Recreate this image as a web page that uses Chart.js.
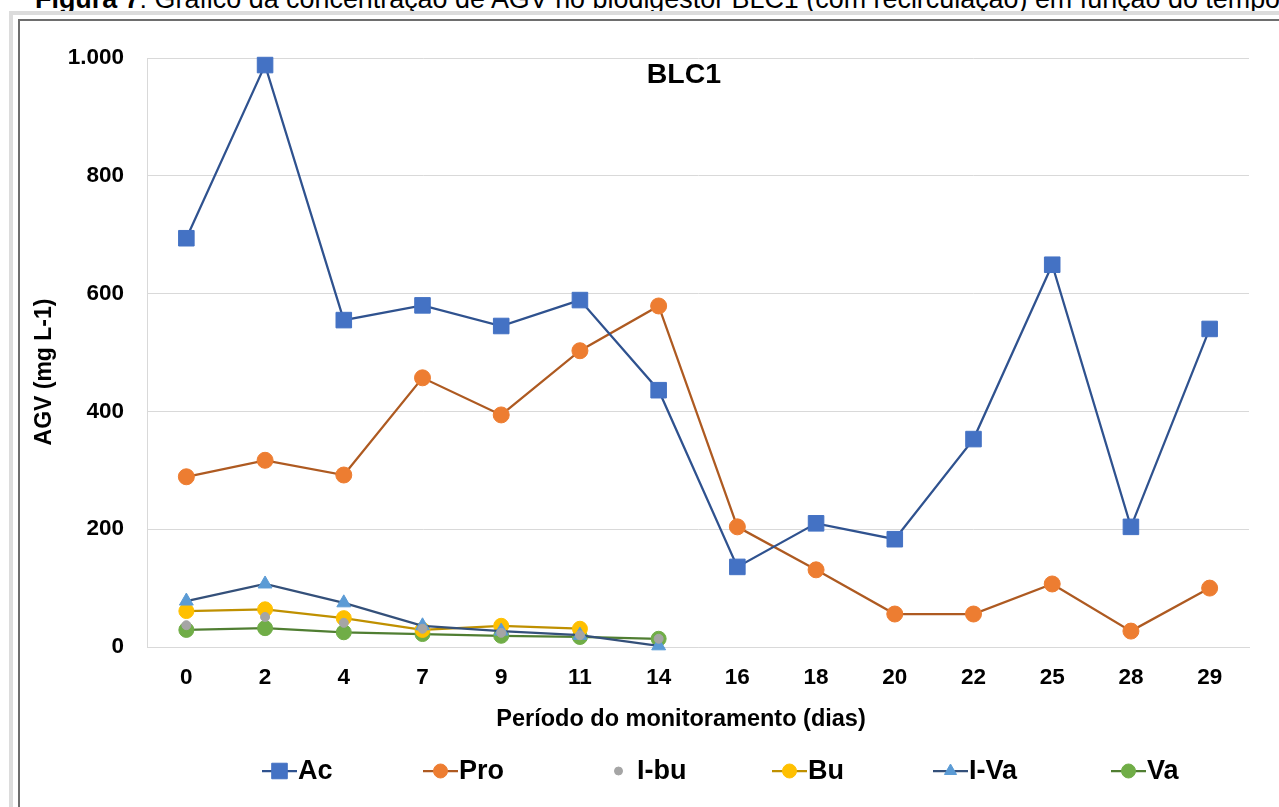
<!DOCTYPE html>
<html>
<head>
<meta charset="utf-8">
<script src="https://cdn.jsdelivr.net/npm/chart.js@4/dist/chart.umd.min.js"></script>
<style>
  html, body { margin: 0; padding: 0; background: #fff; width: 1279px; height: 807px; overflow: hidden; }
  #caption { position: absolute; left: 35px; top: -16px; white-space: nowrap; width: max-content; font-family: "Liberation Sans", Arial, sans-serif; font-size: 26.9px; color: #000; line-height: 30px; }
  #bandTop { position: absolute; left: 9px; top: 11px; width: 1270px; height: 4px; background: #dcdcdc; }
  #bandLeft { position: absolute; left: 9px; top: 11px; width: 4px; height: 796px; background: #dcdcdc; }
  #frame { position: absolute; left: 18px; top: 19px; width: 1300px; height: 820px; border-left: 2px solid #6e6e6e; border-top: 2px solid #6e6e6e; }
  #wrap { position: absolute; left: 20px; top: 21px; width: 1259px; height: 786px; }
</style>
</head>
<body>
<div id="caption"><b>Figura 7</b>: Gráfico da concentração de AGV no biodigestor BLC1 (com recirculação) em função do tempo</div>
<div id="bandTop"></div>
<div id="bandLeft"></div>
<div id="frame"></div>
<div id="wrap"><canvas id="c" width="1259" height="786"></canvas></div>
<script>
// ---- data ----
const days = ['0','2','4','7','9','11','14','16','18','20','22','25','28','29'];
const acData   = [694, 988, 555, 580, 545, 589, 436, 136, 210, 183, 353, 649, 204, 540];
const proData  = [289, 317, 292, 457, 394, 503, 579, 204, 131, 56, 56, 107, 27, 100];
const ibuData  = [37, 51, 41, 31, 24, 20, 14, null, null, null, null, null, null, null];
const buData   = [61, 64, 49, 29, 36, 31, null, null, null, null, null, null, null, null];
const ivaData  = [78, 107, 75, 36, 27, 20, 2, null, null, null, null, null, null, null];
const vaData   = [29, 32, 25, 22, 19, 17, 14, null, null, null, null, null, null, null];
const yTicks   = [0, 200, 400, 600, 800, 1000];
const chartTitle = 'BLC1';
const yTitle = 'AGV (mg L-1)';
const xTitle = 'Período do monitoramento (dias)';

const FONT = '"Liberation Sans", Arial, sans-serif';

const series = [
  { label: 'Ac',   data: acData,  line: '#2F528F', fill: '#4472C4', style: 'rect',     r: 11,  showLine: true,  order: 2 },
  { label: 'Pro',  data: proData, line: '#AE5A21', fill: '#ED7D31', style: 'circle',   r: 8,   showLine: true,  order: 3 },
  { label: 'I-bu', data: ibuData, line: '#A5A5A5', fill: '#A5A5A5', style: 'circle',   r: 4.5, showLine: false, order: 1 },
  { label: 'Bu',   data: buData,  line: '#BF9000', fill: '#FFC000', style: 'circle',   r: 7.5, showLine: true,  order: 5 },
  { label: 'I-Va', data: ivaData, line: '#34507A', fill: '#5B9BD5', style: 'triangle', r: 8,   showLine: true,  order: 4 },
  { label: 'Va',   data: vaData,  line: '#507E32', fill: '#70AD47', style: 'circle',   r: 7.5, showLine: true,  order: 6 }
];

const extraText = {
  id: 'extraText',
  afterDraw(chart) {
    const { ctx, chartArea } = chart;
    ctx.save();
    ctx.fillStyle = '#000';
    ctx.font = 'bold 28.5px ' + FONT;
    ctx.textAlign = 'center';
    ctx.textBaseline = 'middle';
    ctx.fillText(chartTitle, 664, chartArea.top + 17);
    // x-axis title
    ctx.font = 'bold 23.5px ' + FONT;
    ctx.fillText(xTitle, 661, 699);
    // y-axis title
    ctx.font = 'bold 23px ' + FONT;
    ctx.translate(25, 351);
    ctx.rotate(-Math.PI / 2);
    ctx.fillText(yTitle, 0, 0);
    ctx.restore();
  }
};

const customLegend = {
  id: 'customLegend',
  afterDraw(chart) {
    const { ctx } = chart;
    ctx.save();
    ctx.font = 'bold 27px ' + FONT;
    ctx.textBaseline = 'middle';
    const y = 750;
    const starts = [242, 403, 581, 752, 913, 1091];
    const symW = 35;
    series.forEach((s, i) => {
      const x = starts[i];
      const cx = x + symW / 2;
      if (s.showLine) {
        ctx.strokeStyle = s.line;
        ctx.lineWidth = 2.25;
        ctx.beginPath();
        ctx.moveTo(x, y);
        ctx.lineTo(x + symW, y);
        ctx.stroke();
      }
      ctx.fillStyle = s.fill;
      ctx.strokeStyle = s.fill;
      ctx.lineWidth = 1;
      const legR = s.showLine ? (s.style === 'rect' ? 11 : 7) : 4;
      Chart.helpers.drawPoint(ctx, { pointStyle: s.style, radius: legR, rotation: 0, borderWidth: 1 }, cx, y);
      ctx.fillStyle = '#000';
      ctx.textAlign = 'left';
      ctx.fillText(s.label, x + symW + 1, y + 1);
    });
    ctx.restore();
  }
};

new Chart(document.getElementById('c'), {
  type: 'line',
  data: {
    labels: days,
    datasets: series.map(s => ({
      label: s.label,
      data: s.data,
      borderColor: s.line,
      backgroundColor: s.fill,
      borderWidth: 2.25,
      pointStyle: s.style,
      pointRadius: s.r,
      pointHoverRadius: s.r,
      pointBackgroundColor: s.fill,
      pointBorderColor: s.fill,
      pointBorderWidth: 1,
      showLine: s.showLine,
      spanGaps: false,
      tension: 0,
      order: s.order,
      clip: false
    }))
  },
  options: {
    responsive: false,
    devicePixelRatio: 1,
    animation: false,
    layout: { padding: { left: 0, top: 37, right: 30, bottom: 60 } },
    plugins: {
      legend: { display: false },
      tooltip: { enabled: false },
      title: { display: false }
    },
    scales: {
      x: {
        type: 'category',
        offset: true,
        grid: { display: false, drawTicks: false },
        border: { display: true, color: '#d9d9d9', width: 1 },
        ticks: { color: '#000', font: { family: FONT, size: 22.5, weight: 'bold' }, padding: 17, maxRotation: 0, autoSkip: false },
        title: { display: false },
        afterFit(scale) { scale.height = 100; }
      },
      y: {
        min: 0, max: 1000,
        afterBuildTicks(scale) { scale.ticks = yTicks.map(v => ({ value: v })); },
        grid: { color: '#d9d9d9', lineWidth: 1, drawTicks: false },
        border: { display: true, color: '#d9d9d9', width: 1 },
        ticks: {
          color: '#000', font: { family: FONT, size: 22.5, weight: 'bold' }, padding: 23,
          callback: v => v.toLocaleString('pt-BR')
        },
        title: { display: false },
        afterFit(scale) { scale.width = 127; }
      }
    }
  },
  plugins: [extraText, customLegend]
});
</script>
</body>
</html>
